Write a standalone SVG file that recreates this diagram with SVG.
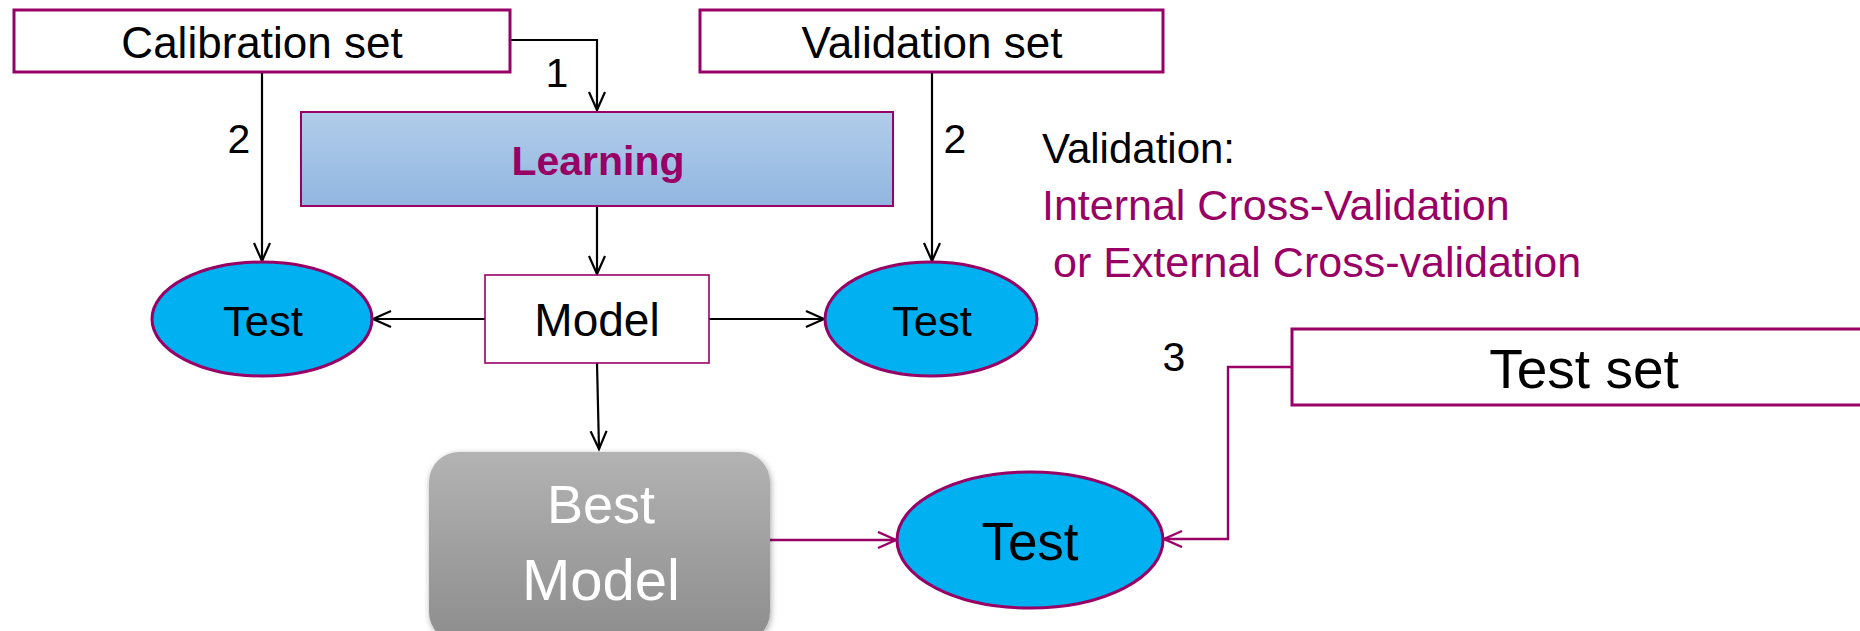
<svg xmlns="http://www.w3.org/2000/svg" width="1860" height="631" viewBox="0 0 1860 631">
<style>
text{font-family:"Liberation Sans",Arial,sans-serif;fill:#000}
.box{fill:#fff;stroke:#990066;stroke-width:3}
.ell{fill:#00B0F0;stroke:#990066;stroke-width:3}
.blk{fill:none;stroke:#000;stroke-width:2.2}
.mag{fill:none;stroke:#990066;stroke-width:2.4}
.mg{fill:#990066}
</style>
<defs>
<marker id="ah" markerWidth="22" markerHeight="20" refX="19" refY="9" orient="auto" markerUnits="userSpaceOnUse">
<path d="M1,1 L19,9 L1,17" fill="none" stroke="#000" stroke-width="2.2"/>
</marker>
<marker id="ahm" markerWidth="22" markerHeight="20" refX="19" refY="9" orient="auto" markerUnits="userSpaceOnUse">
<path d="M1,1 L19,9 L1,17" fill="none" stroke="#990066" stroke-width="2.4"/>
</marker>
<linearGradient id="gLearn" x1="0" y1="0" x2="0" y2="1">
<stop offset="0" stop-color="#B2CDEA"/>
<stop offset="1" stop-color="#91B6E1"/>
</linearGradient>
<linearGradient id="gBest" x1="0" y1="0" x2="0" y2="1">
<stop offset="0" stop-color="#B3B3B3"/>
<stop offset="1" stop-color="#8D8D8D"/>
</linearGradient>
<filter id="sh" x="-10%" y="-10%" width="120%" height="120%">
<feGaussianBlur in="SourceAlpha" stdDeviation="3"/>
<feOffset dx="1" dy="2"/>
<feComponentTransfer><feFuncA type="linear" slope="0.35"/></feComponentTransfer>
<feMerge><feMergeNode/><feMergeNode in="SourceGraphic"/></feMerge>
</filter>
</defs>
<rect width="1860" height="631" fill="#fff"/>

<g id="connectors">
<path class="blk" d="M510,40 H597 V110" marker-end="url(#ah)"/>
<path class="blk" d="M262,72 V261" marker-end="url(#ah)"/>
<path class="blk" d="M932,72 V261" marker-end="url(#ah)"/>
<path class="blk" d="M597,206 V274" marker-end="url(#ah)"/>
<path class="blk" d="M485,319 H373" marker-end="url(#ah)"/>
<path class="blk" d="M709,319 H824" marker-end="url(#ah)"/>
<path class="blk" d="M597,363 L599,449" marker-end="url(#ah)"/>
<path class="mag" d="M770,540 H896" marker-end="url(#ahm)"/>
<path class="mag" d="M1292,367 H1228 V539 H1164" marker-end="url(#ahm)"/>
<text x="557" y="87" font-size="41" text-anchor="middle">1</text>
<text x="239" y="153" font-size="41" text-anchor="middle">2</text>
<text x="955" y="153" font-size="41" text-anchor="middle">2</text>
<text x="1174" y="371" font-size="41" text-anchor="middle">3</text>
</g>

<g id="calibration">
<rect class="box" x="14" y="10" width="496" height="62"/>
<text x="262" y="58" font-size="44" text-anchor="middle">Calibration set</text>
</g>

<g id="validation">
<rect class="box" x="700" y="10" width="463" height="62"/>
<text x="932" y="58" font-size="44" text-anchor="middle">Validation set</text>
</g>

<g id="learning">
<rect x="301" y="112" width="592" height="94" fill="url(#gLearn)" stroke="#990066" stroke-width="2"/>
<text x="598" y="175" font-size="41" font-weight="bold" text-anchor="middle" class="mg">Learning</text>
</g>

<g id="model">
<rect x="485" y="275" width="224" height="88" fill="#fff" stroke="#990066" stroke-width="1.6"/>
<text x="597" y="336" font-size="46" text-anchor="middle">Model</text>
</g>

<g id="test-left">
<ellipse class="ell" cx="262" cy="319" rx="110" ry="57"/>
<text x="263" y="336" font-size="43" text-anchor="middle" textLength="80" lengthAdjust="spacingAndGlyphs">Test</text>
</g>

<g id="test-right">
<ellipse class="ell" cx="931" cy="319" rx="106" ry="57"/>
<text x="932" y="336" font-size="43" text-anchor="middle" textLength="80" lengthAdjust="spacingAndGlyphs">Test</text>
</g>

<g id="validation-note">
<text x="1042" y="163" font-size="42">Validation:</text>
<text x="1042" y="220" font-size="43" class="mg">Internal Cross-Validation</text>
<text x="1053" y="277" font-size="43" class="mg">or External Cross-validation</text>
</g>

<g id="test-set">
<rect class="box" x="1292" y="329" width="600" height="76"/>
<text x="1584" y="388" font-size="55" text-anchor="middle">Test set</text>
</g>

<g id="best-model">
<rect x="429" y="452" width="341" height="190" rx="30" ry="30" fill="url(#gBest)" filter="url(#sh)"/>
<text x="601" y="523" font-size="54" text-anchor="middle" style="fill:#fff">Best</text>
<text x="601" y="600" font-size="58" text-anchor="middle" style="fill:#fff">Model</text>
</g>

<g id="test-final">
<ellipse class="ell" cx="1030" cy="540" rx="133" ry="68"/>
<text x="1030" y="560" font-size="53" text-anchor="middle">Test</text>
</g>
</svg>
